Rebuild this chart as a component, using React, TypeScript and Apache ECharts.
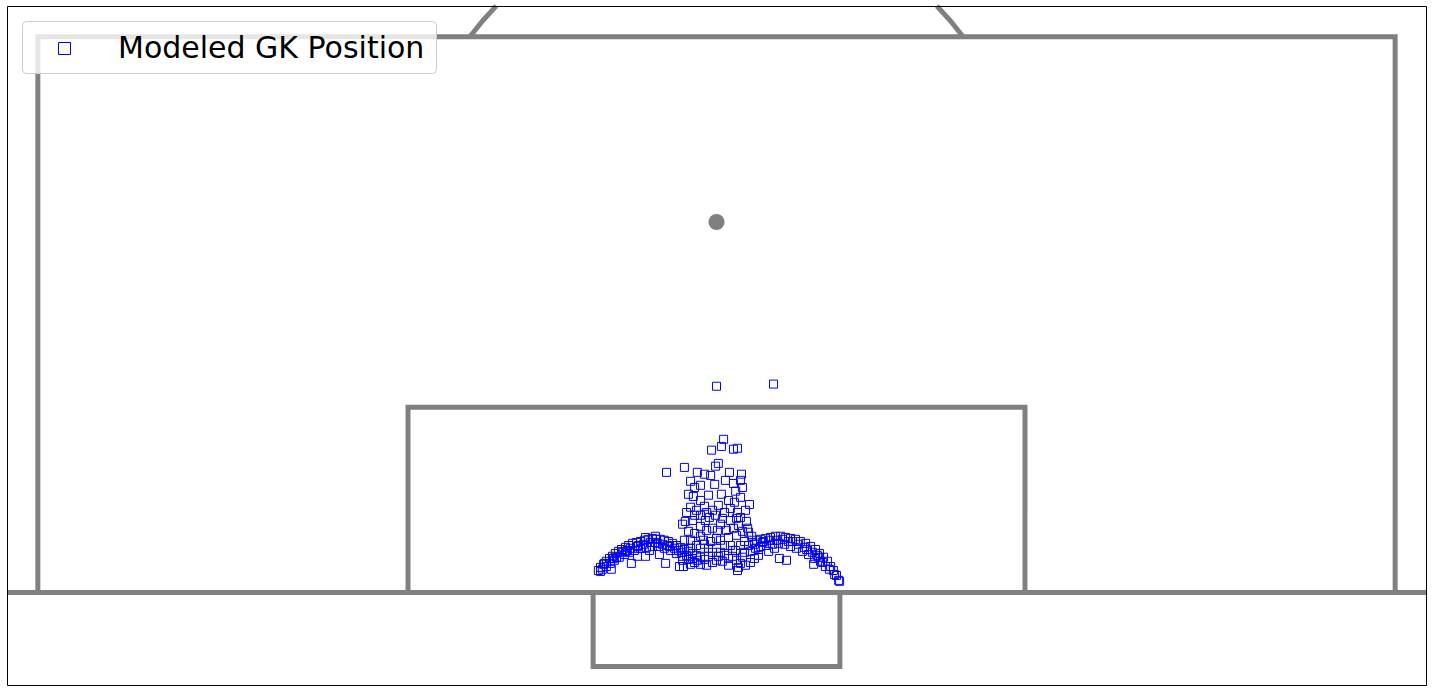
import React, { useEffect, useRef } from "react";
import * as echarts from "echarts";

// Pitch geometry (yards): x = across the pitch, y = distance from the goal line
const xRange = [17, 63];
const yRange = [-3, 19];
const goalLine = [[17, 0], [63, 0]];
const penaltyBox = [[18, 0], [18, 18], [62, 18], [62, 0]];
const sixYardBox = [[30, 0], [30, 6], [50, 6], [50, 0]];
const goalFrame = [[36, 0], [36, -2.4], [44, -2.4], [44, 0]];
const penaltySpot = [40, 12];
const arcRadius = 10;

const legendLabel = "Modeled GK Position";

// Modeled goalkeeper positions [across, distance from goal line]
const gkPositions: number[][] = [
  [40.0, 6.68], [41.85, 6.75], [38.38, 3.89], [38.96, 4.05], [40.23, 4.96],
  [40.16, 4.73], [39.84, 4.61], [40.55, 4.64], [40.68, 4.67], [40.06, 4.18],
  [39.97, 4.09], [40.81, 3.83], [40.78, 3.63], [40.42, 3.89], [40.84, 3.4],
  [39.38, 3.89], [39.61, 3.83], [39.81, 3.79], [39.16, 3.6], [39.29, 3.4],
  [39.09, 3.18], [39.25, 3.11], [39.48, 3.47], [39.94, 3.5], [40.29, 3.63],
  [40.55, 3.53], [40.62, 3.28], [40.78, 3.08], [41.07, 2.85], [40.94, 2.66],
  [39.03, 2.59], [39.16, 2.76], [39.48, 2.98], [39.74, 3.15], [40.06, 2.82],
  [40.16, 3.18], [40.39, 2.98], [40.68, 2.59], [40.78, 2.43], [40.97, 2.3],
  [41.01, 2.08], [40.84, 1.98], [38.99, 2.3], [38.9, 2.21], [39.22, 2.33],
  [39.48, 2.14], [39.64, 2.33], [39.77, 2.43], [40.03, 2.01], [40.13, 2.21],
  [40.45, 2.33], [40.71, 2.17], [39.09, 1.98], [39.29, 1.91], [39.48, 1.82],
  [39.81, 1.65], [40.13, 1.69], [40.39, 1.78], [40.65, 1.85], [40.91, 1.65],
  [41.04, 1.95], [41.14, 1.82], [39.87, 2.66], [39.97, 2.5], [39.35, 2.66],
  [39.61, 2.79], [40.26, 2.59], [40.45, 2.72], [40.58, 2.92], [39.48, 2.5],
  [39.16, 1.69], [39.35, 1.52], [39.68, 2.01], [39.87, 2.08], [40.32, 2.01],
  [40.55, 2.08], [40.78, 1.52],
  [39.29, 2.5], [40.65, 2.4], [40.19, 2.4], [39.68, 2.59],
  [36.17, 0.71], [36.24, 0.81], [36.34, 0.91], [36.43, 1.01], [36.53, 1.1],
  [36.63, 1.17], [36.72, 1.26], [36.82, 1.33], [36.92, 1.39], [37.05, 1.46],
  [37.15, 1.52], [37.28, 1.59], [37.41, 1.62], [37.54, 1.65], [37.67, 1.69],
  [37.79, 1.72], [37.92, 1.75], [38.05, 1.72], [38.18, 1.72], [38.31, 1.69],
  [38.44, 1.65], [38.57, 1.59], [38.7, 1.52], [38.83, 1.46], [38.96, 1.39],
  [39.09, 1.33], [39.22, 1.26], [39.35, 1.2], [39.48, 1.14], [39.61, 1.07],
  [36.3, 0.75], [36.43, 0.84], [36.56, 0.94], [36.69, 1.04], [36.85, 1.14],
  [37.02, 1.23], [37.18, 1.3], [37.34, 1.36], [37.54, 1.43], [37.73, 1.46],
  [37.92, 1.49], [38.12, 1.49], [38.31, 1.43], [38.51, 1.36], [38.7, 1.26],
  [38.9, 1.17], [39.09, 1.07], [39.29, 0.97], [39.48, 0.91],
  [36.24, 0.68], [36.59, 0.75], [37.24, 0.94], [37.44, 1.17], [37.7, 1.17],
  [38.15, 1.23], [37.83, 1.36], [38.35, 0.94], [38.8, 0.84], [38.93, 0.84],
  [39.16, 0.91], [36.76, 1.14], [37.11, 1.36], [37.47, 1.52], [38.02, 1.62],
  [38.41, 1.52], [38.77, 1.36],
  [36.37, 0.94], [36.66, 1.1], [36.95, 1.3], [37.21, 1.43], [37.44, 1.49],
  [37.63, 1.56], [37.86, 1.62], [38.09, 1.59], [38.25, 1.56], [38.48, 1.49],
  [38.64, 1.43], [38.86, 1.3], [39.03, 1.2], [39.22, 1.1], [39.38, 1.04],
  [37.7, 1.78], [38.02, 1.82], [37.05, 1.33],
  [39.74, 1.17], [39.87, 1.3], [40.0, 1.43], [40.13, 1.3], [40.26, 1.2],
  [40.39, 1.1], [40.52, 1.17], [40.65, 1.04], [40.78, 0.94], [40.68, 0.71],
  [40.71, 0.81], [39.68, 0.88], [39.87, 0.97], [40.19, 1.01], [40.39, 0.88],
  [40.0, 1.04], [39.48, 1.43], [39.61, 1.56], [40.45, 1.52], [40.62, 1.36],
  [40.91, 1.3], [38.9, 1.04], [40.94, 0.88],
  [38.96, 1.69], [39.58, 1.69], [40.0, 1.75], [40.26, 1.52], [39.74, 1.43],
  [40.52, 1.36], [40.84, 1.14], [39.16, 1.43], [40.06, 1.17],
  [41.04, 1.52], [41.17, 1.62], [41.3, 1.69], [41.43, 1.72], [41.59, 1.75],
  [41.75, 1.78], [41.91, 1.82], [42.08, 1.82], [42.24, 1.78], [42.4, 1.75],
  [42.56, 1.72], [42.72, 1.65], [42.89, 1.59], [43.05, 1.49], [43.21, 1.39],
  [43.34, 1.26], [43.47, 1.14], [43.6, 1.01], [43.7, 0.84], [43.79, 0.71],
  [43.89, 0.55], [43.96, 0.39],
  [41.1, 1.33], [41.26, 1.43], [41.43, 1.49], [41.62, 1.52], [41.82, 1.56],
  [42.01, 1.59], [42.21, 1.56], [42.4, 1.49], [42.59, 1.43], [42.79, 1.33],
  [42.98, 1.23], [43.18, 1.1], [43.37, 1.01], [43.53, 0.84],
  [42.04, 1.1], [42.27, 1.04], [43.15, 0.91], [41.69, 1.33], [41.36, 1.2],
  [43.99, 0.36], [43.83, 0.58], [42.46, 1.65], [41.95, 1.69], [41.49, 1.62],
  [42.85, 1.46], [43.27, 1.2], [41.23, 1.1], [41.1, 0.97],
  [41.23, 1.56], [41.52, 1.65], [41.72, 1.69], [42.14, 1.72], [42.33, 1.65],
  [42.66, 1.56], [42.92, 1.39], [43.11, 1.3], [43.31, 1.14], [43.44, 0.97],
  [43.66, 0.75], [41.88, 1.43], [41.36, 1.39],
];

const LINE_COLOR = "#808080";
const LINE_WIDTH = 5;

function pitchLineSeries(name: string, data: number[][]) {
  return {
    name,
    type: "line",
    data,
    symbol: "none",
    silent: true,
    z: 0,
    lineStyle: { color: LINE_COLOR, width: LINE_WIDTH, join: "miter", cap: "butt", opacity: 1 },
  };
}

export default function App() {
  const ref = useRef<HTMLDivElement>(null);

  useEffect(() => {
    document.body.style.margin = "0";
    if (!ref.current) return;
    const chart = echarts.init(ref.current, undefined, { renderer: "svg" });

    // arc of the penalty "D" between the box edge (y=18) and the top of the view (y=19)
    const a1 = Math.asin((penaltyBox[1][1] - penaltySpot[1]) / arcRadius);
    const a2 = Math.asin((yRange[1] - penaltySpot[1]) / arcRadius);

    chart.setOption({
      animation: false,
      grid: { left: 7, right: 6, top: 6, bottom: 7, show: false },
      xAxis: { type: "value", min: xRange[0], max: xRange[1], show: false },
      yAxis: { type: "value", min: yRange[0], max: yRange[1], show: false },
      series: [
        pitchLineSeries("goal line", goalLine),
        pitchLineSeries("penalty box", penaltyBox),
        pitchLineSeries("six yard box", sixYardBox),
        pitchLineSeries("goal", goalFrame),
        {
          name: "arc",
          type: "custom",
          silent: true,
          z: 0,
          data: [penaltySpot],
          renderItem: (params: any, api: any) => {
            const c = api.coord([api.value(0), api.value(1)]);
            const r = api.size([arcRadius, 0])[0];
            const style = { stroke: LINE_COLOR, lineWidth: LINE_WIDTH, fill: "none" };
            return {
              type: "group",
              children: [
                {
                  type: "arc",
                  shape: { cx: c[0], cy: c[1], r, startAngle: -(Math.PI - a1), endAngle: -(Math.PI - a2), clockwise: true },
                  style,
                },
                {
                  type: "arc",
                  shape: { cx: c[0], cy: c[1], r, startAngle: -a2, endAngle: -a1, clockwise: true },
                  style,
                },
              ],
            };
          },
        },
        {
          name: "penalty spot",
          type: "scatter",
          silent: true,
          z: 0,
          data: [penaltySpot],
          symbol: "circle",
          symbolSize: 16,
          itemStyle: { color: LINE_COLOR, opacity: 1 },
        },
        {
          name: legendLabel,
          type: "scatter",
          z: 3,
          data: gkPositions,
          symbol: "rect",
          symbolSize: 8,
          itemStyle: { color: "rgba(0,0,0,0)", borderColor: "#0000ff", borderWidth: 1, opacity: 1 },
        },
      ],
      graphic: [
        {
          type: "rect",
          z: 50,
          silent: true,
          shape: { x: 7.5, y: 6.5, width: 1419, height: 679 },
          style: { fill: "none", stroke: "#000", lineWidth: 1 },
        },
        {
          type: "rect",
          z: 100,
          shape: { x: 22.5, y: 21.5, width: 414, height: 52, r: 4 },
          style: { fill: "rgba(255,255,255,0.8)", stroke: "#cccccc", lineWidth: 1 },
        },
        {
          type: "rect",
          z: 101,
          shape: { x: 58.5, y: 42.5, width: 12, height: 12 },
          style: { fill: "none", stroke: "#0000ff", lineWidth: 1 },
        },
        {
          type: "text",
          z: 101,
          x: 118,
          y: 47,
          style: {
            text: legendLabel,
            font: "30px 'DejaVu Sans'",
            fill: "#000",
            verticalAlign: "middle",
            align: "left",
          },
        },
      ],
    });

    return () => chart.dispose();
  }, []);

  return <div ref={ref} style={{ width: 1432, height: 692 }} />;
}
